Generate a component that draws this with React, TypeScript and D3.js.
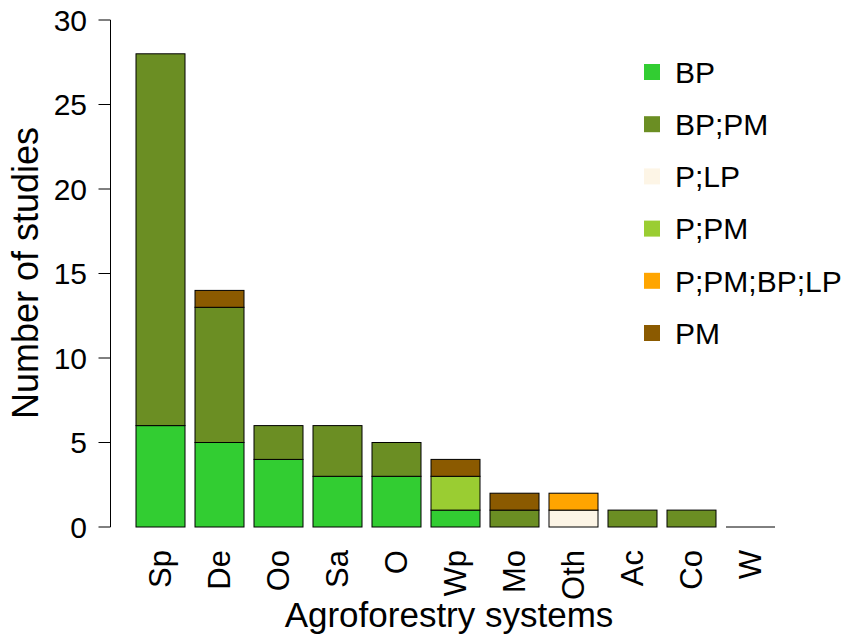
import { useRef, useEffect } from 'react';
import * as d3 from 'd3';

const systems = ['Sp', 'De', 'Oo', 'Sa', 'O', 'Wp', 'Mo', 'Oth', 'Ac', 'Co', 'W'];
const groups = ['BP', 'BP;PM', 'P;LP', 'P;PM', 'P;PM;BP;LP', 'PM'];
const colors = ['#32CD32', '#6B8E23', '#FDF5E6', '#9ACD32', '#FFA500', '#8B5A00'];

const bp = [6, 5, 4, 3, 3, 1, 0, 0, 0, 0, 0];
const bpPm = [22, 8, 2, 3, 2, 0, 1, 0, 1, 1, 0];
const pLp = [0, 0, 0, 0, 0, 0, 0, 1, 0, 0, 0];
const pPm = [0, 0, 0, 0, 0, 2, 0, 0, 0, 0, 0];
const pPmBpLp = [0, 0, 0, 0, 0, 0, 0, 1, 0, 0, 0];
const pm = [0, 1, 0, 0, 0, 1, 1, 0, 0, 0, 0];

const yTicks = [0, 5, 10, 15, 20, 25, 30];

export default function App() {
  const svgRef = useRef<SVGSVGElement>(null);

  useEffect(() => {
    if (!svgRef.current) return;
    const svg = d3.select(svgRef.current);
    svg.selectAll('*').remove();

    const font = 'Liberation Sans, Arial, sans-serif';
    const series = [bp, bpPm, pLp, pPm, pPmBpLp, pm];
    const rows = systems.map((s, i) => {
      const r: Record<string, number | string> = { sys: s };
      groups.forEach((g, j) => (r[g] = series[j][i]));
      return r;
    });

    const stacked = d3.stack<Record<string, number | string>>().keys(groups)(rows);

    const x = d3
      .scaleBand<string>()
      .domain(systems)
      .range([131, 780])
      .paddingInner(10 / 59)
      .paddingOuter(5 / 59);

    const y = d3.scaleLinear().domain([0, 30]).range([527, 20]);

    // Bars
    stacked.forEach((layer, j) => {
      svg
        .append('g')
        .selectAll('rect')
        .data(layer.filter((d) => d[1] - d[0] > 0))
        .enter()
        .append('rect')
        .attr('x', (d) => x(d.data.sys as string)!)
        .attr('y', (d) => y(d[1]))
        .attr('width', x.bandwidth())
        .attr('height', (d) => y(d[0]) - y(d[1]))
        .attr('fill', colors[j])
        .attr('stroke', '#000')
        .attr('stroke-width', 1);
    });

    // zero-height bars drawn as a line
    const totals = systems.map((_, i) => series.reduce((a, s) => a + s[i], 0));
    svg
      .selectAll('.zero')
      .data(systems.filter((_, i) => totals[i] === 0))
      .enter()
      .append('line')
      .attr('x1', (d) => x(d)!)
      .attr('x2', (d) => x(d)! + x.bandwidth())
      .attr('y1', y(0))
      .attr('y2', y(0))
      .attr('stroke', '#000');

    // Y axis
    const ax = 110.5;
    svg
      .append('line')
      .attr('x1', ax)
      .attr('x2', ax)
      .attr('y1', y(0))
      .attr('y2', y(30))
      .attr('stroke', '#000');
    const yt = svg.selectAll('.yt').data(yTicks).enter().append('g');
    yt.append('line')
      .attr('x1', ax - 12)
      .attr('x2', ax)
      .attr('y1', (d) => y(d))
      .attr('y2', (d) => y(d))
      .attr('stroke', '#000');
    yt.append('text')
      .attr('x', 87)
      .attr('y', (d) => y(d))
      .attr('dy', '0.36em')
      .attr('text-anchor', 'end')
      .attr('font-family', font)
      .attr('font-size', 30)
      .text((d) => d);

    svg
      .append('text')
      .attr('transform', `translate(38,273) rotate(-90)`)
      .attr('text-anchor', 'middle')
      .attr('font-family', font)
      .attr('font-size', 36)
      .text('Number of studies');

    // X labels
    svg
      .selectAll('.xl')
      .data(systems)
      .enter()
      .append('text')
      .attr('transform', (d) => `translate(${x(d)! + x.bandwidth() / 2 + 10},550) rotate(-90)`)
      .attr('text-anchor', 'end')
      .attr('font-family', font)
      .attr('font-size', 31)
      .text((d) => d);

    svg
      .append('text')
      .attr('x', 449)
      .attr('y', 627)
      .attr('text-anchor', 'middle')
      .attr('font-family', font)
      .attr('font-size', 35)
      .text('Agroforestry systems');

    // Legend
    const leg = svg
      .selectAll('.leg')
      .data(groups)
      .enter()
      .append('g')
      .attr('transform', (_, i) => `translate(644,${72 + i * 52.2})`);
    leg.append('rect')
      .attr('x', 0)
      .attr('y', -8)
      .attr('width', 16)
      .attr('height', 16)
      .attr('fill', (_, i) => colors[i]);
    leg.append('text')
      .attr('x', 31)
      .attr('y', 0)
      .attr('dy', '0.36em')
      .attr('font-family', font)
      .attr('font-size', 30)
      .text((d) => d);
  }, []);

  return (
    <svg
      ref={svgRef}
      width={855}
      height={639}
      style={{ position: 'absolute', left: 0, top: 0, background: '#fff' }}
    />
  );
}
